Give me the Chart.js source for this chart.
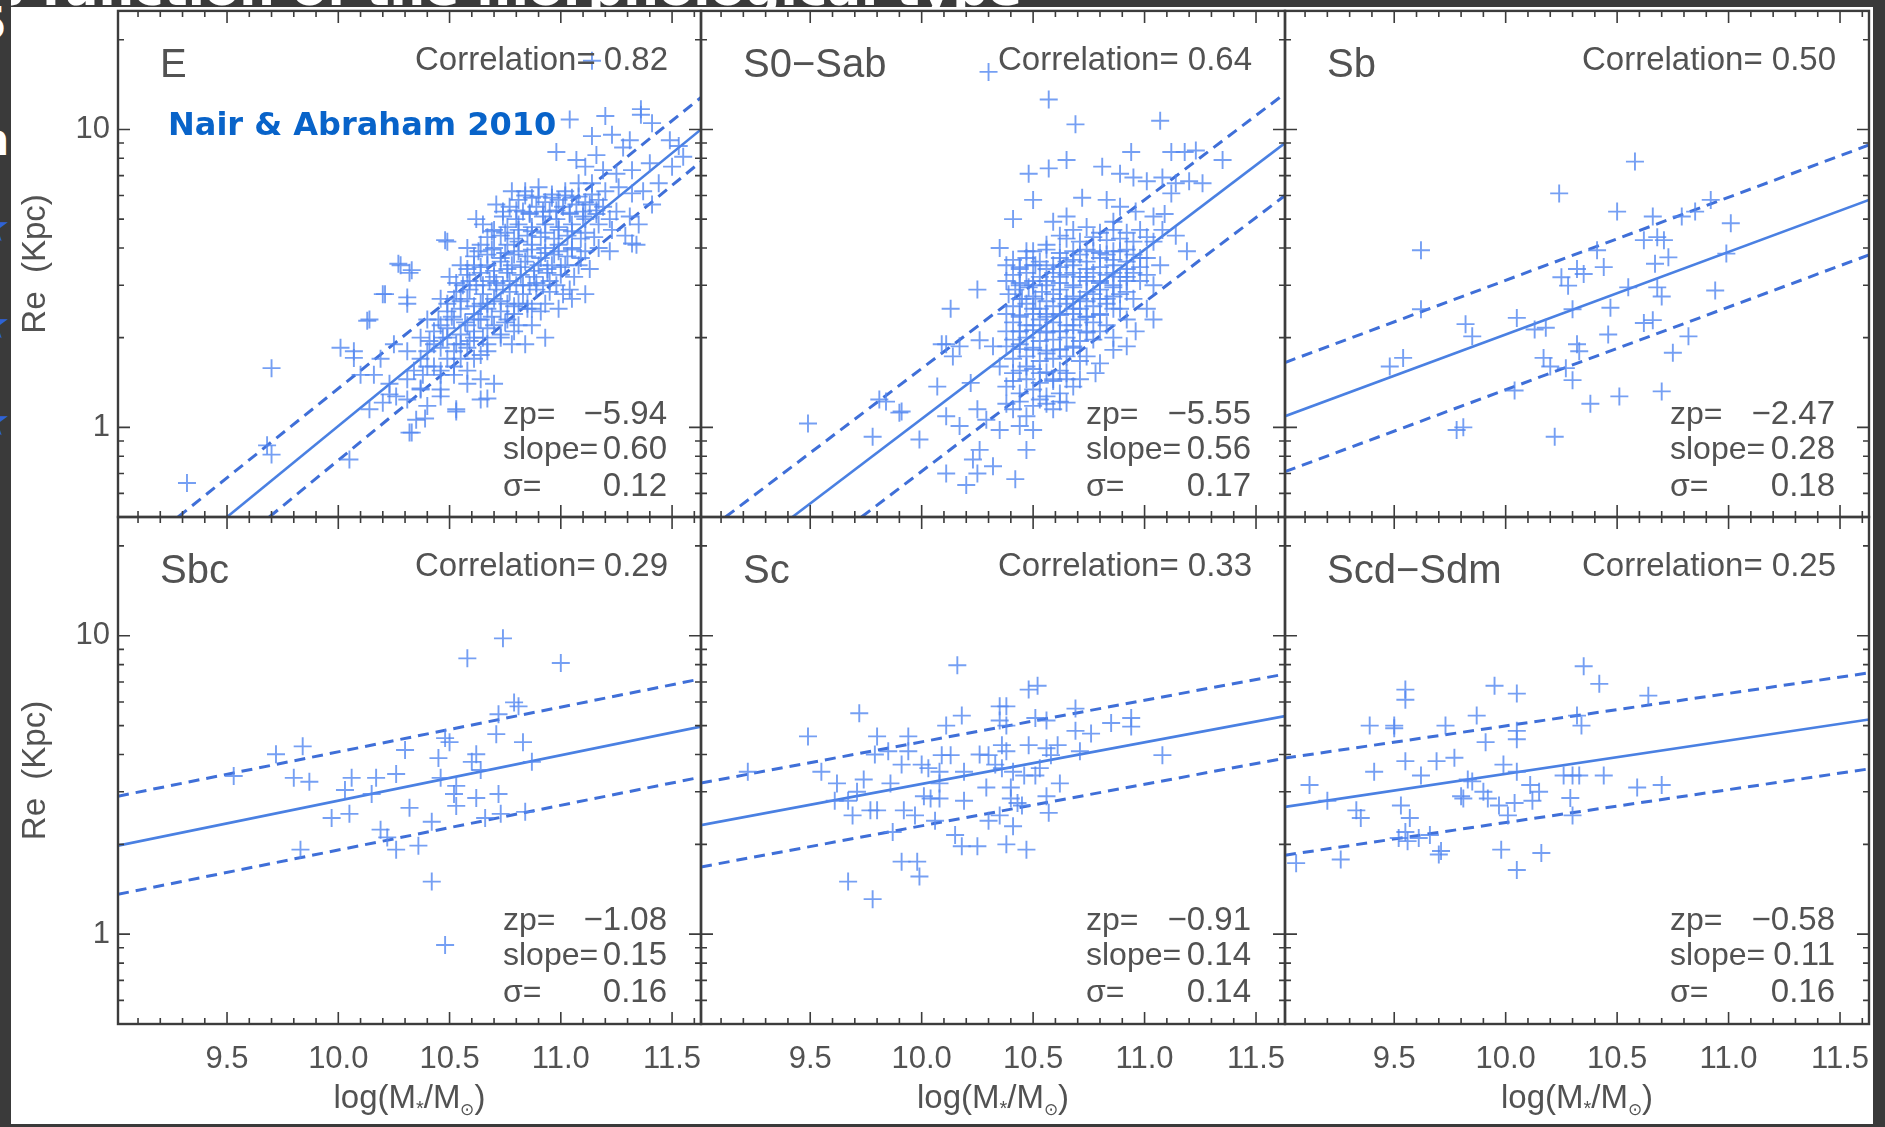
<!DOCTYPE html>
<html>
<head>
<meta charset="utf-8">
<script src="https://cdn.jsdelivr.net/npm/chart.js@4.4.1/dist/chart.umd.min.js"></script>
<style>
  html, body { margin: 0; padding: 0; background: #fff; }
  body { position: relative; width: 1885px; height: 1127px; overflow: hidden; }
  canvas { position: absolute; left: 0; top: 0; }
  .strip { position: absolute; background: #3a3a3a; overflow: hidden; z-index: 5; }
  .strip span { position: absolute; white-space: nowrap; line-height: 1; font-family: "DejaVu Sans"; font-weight: bold; }
  #credit { position: absolute; left: 168px; top: 105px; z-index: 4; line-height: 1;
            font: bold 32px "DejaVu Sans"; color: #0863c9; white-space: nowrap; }
</style>
</head>
<body>
<div id="credit">Nair &amp; Abraham 2010</div>
<div class="strip" style="left:0;top:0;width:1885px;height:7px"><span style="left:-6px;top:-37px;font-size:50px;color:#fff">s function of the morphological type</span></div>
<div class="strip" style="left:0;top:0;width:11px;height:1127px">
  <span style="left:-24px;top:2px;font-size:44px;color:#fff">5</span>
  <span style="left:-22px;top:118px;font-size:44px;color:#fff">n</span>
  <span style="left:-27px;top:206px;font-size:42px;color:#2f62d6">★</span>
  <span style="left:-27px;top:303px;font-size:42px;color:#2f62d6">★</span>
  <span style="left:-27px;top:400px;font-size:42px;color:#2f62d6">★</span>
</div>
<div class="strip" style="left:1873px;top:0;width:12px;height:1127px"></div>
<div class="strip" style="left:0;top:1124px;width:1885px;height:3px"></div>

<script>
// ---- data: [log(M*/Msun), Re (kpc)] ----
const ePoints = [
  [11.04,10.8],[11.20,11.1],[11.36,11.2],[11.41,10.5],[11.49,9.2],[11.14,9.5],[11.23,9.6],[11.28,8.7],[11.31,9.2],[10.98,8.4],
  [11.16,8.2],[11.07,7.9],[11.11,7.5],[11.19,7.3],[11.25,7.1],[11.32,7.3],[11.40,7.7],[11.44,6.6],[11.50,7.5],[11.55,8.1],
  [10.78,6.2],[10.84,6.2],[10.90,6.4],[10.96,5.9],[11.02,6.2],[11.08,6.6],[11.14,6.6],[11.20,6.2],[11.26,6.4],[11.32,6.1],
  [11.37,6.2],[11.41,5.6],[10.71,5.6],[10.77,5.5],[10.83,5.3],[10.89,5.5],[10.95,5.3],[11.01,5.5],[11.07,5.6],[11.13,5.6],
  [11.19,5.5],[11.25,5.3],[11.31,5.1],[11.35,4.8],[10.65,4.8],[10.70,4.6],[10.76,4.7],[10.81,4.8],[10.87,4.7],[10.93,4.8],
  [10.99,4.7],[11.05,4.8],[11.11,5.0],[11.17,4.8],[11.23,4.6],[11.29,4.4],[11.34,4.1],[10.49,4.2],[10.62,5.0],
  [10.58,4.0],[10.64,4.1],[10.70,4.0],[10.76,4.1],[10.81,4.2],[10.87,4.1],[10.93,4.0],[10.99,4.1],[11.05,4.0],[11.11,3.9],
  [11.17,4.0],[11.22,3.9],[10.55,3.5],[10.61,3.5],[10.67,3.5],[10.73,3.6],[10.78,3.5],[10.84,3.6],[10.90,3.5],[10.96,3.5],
  [11.02,3.5],[11.08,3.5],[11.13,3.4],[10.28,3.5],[10.32,3.3],[10.50,3.2],[10.56,3.0],[10.62,3.0],[10.68,3.1],[10.74,3.0],
  [10.80,3.0],[10.86,3.0],[10.92,3.0],[10.98,3.0],[11.04,2.9],[11.11,2.8],[10.20,2.8],[10.31,2.6],[10.46,2.7],[10.52,2.7],
  [10.58,2.7],[10.64,2.6],[10.70,2.7],[10.76,2.6],[10.81,2.6],[10.87,2.5],[10.93,2.6],[10.99,2.5],[11.05,2.7],
  [10.14,2.3],[10.40,2.3],[10.46,2.2],[10.52,2.3],[10.58,2.2],[10.64,2.3],[10.70,2.2],[10.76,2.3],[10.81,2.2],[10.87,2.2],
  [10.93,2.0],[10.84,1.9],[10.37,2.0],[10.43,1.9],[10.49,2.0],[10.55,1.9],[10.61,2.0],[10.67,1.9],[10.73,2.0],[10.78,1.9],
  [10.67,1.8],[10.61,1.7],[10.55,1.7],[10.49,1.7],[10.43,1.6],[10.37,1.7],[10.31,1.8],[10.25,1.9],[10.19,1.7],[10.07,1.8],
  [10.10,1.5],[10.16,1.5],[10.23,1.4],[10.31,1.45],[10.38,1.5],[10.46,1.5],[10.52,1.5],[10.58,1.4],[10.64,1.45],[10.70,1.4],
  [10.64,1.24],[10.53,1.15],[10.46,1.27],[10.40,1.18],[10.37,1.34],[10.31,1.24],[10.26,1.27],[10.35,1.06],[10.32,0.96],[10.20,1.21],
  [10.14,1.15],[10.05,0.78],[10.46,1.34],
  [9.32,0.65],[9.70,1.58],[9.68,0.87],[9.70,0.81],[10.01,1.85],[10.13,2.28],[10.07,1.71],[10.21,2.80],[10.27,3.54],[10.33,3.37],
  [10.31,2.73],[10.48,4.25],[11.14,17.0],[10.39,1.07],[10.33,0.96],[10.53,1.13],[10.67,1.25],[10.37,1.35],[10.23,1.29],
  [11.53,8.8],[11.36,11.7],[11.32,4.14],
  // dense core of the E cloud
  [10.81,5.8],[10.87,5.9],[10.93,5.7],[10.99,5.8],[11.05,5.9],[11.11,5.7],[11.17,5.8],
  [10.74,5.1],[10.80,5.0],[10.86,5.2],[10.92,5.1],[10.98,5.0],[11.04,5.2],[11.10,5.1],[11.16,5.2],[11.22,5.0],
  [10.67,4.35],[10.73,4.4],[10.79,4.3],[10.85,4.4],[10.91,4.35],[10.97,4.3],[11.03,4.4],[11.09,4.3],[11.15,4.35],
  [10.61,3.75],[10.67,3.8],[10.73,3.7],[10.79,3.8],[10.85,3.75],[10.91,3.7],[10.97,3.8],[11.03,3.75],[11.09,3.7],
  [10.58,3.25],[10.64,3.3],[10.70,3.2],[10.76,3.3],[10.82,3.25],[10.88,3.2],[10.94,3.3],[11.00,3.25],[11.06,3.2],
  [10.53,2.85],[10.59,2.9],[10.65,2.8],[10.71,2.9],[10.77,2.85],[10.83,2.8],[10.89,2.9],[10.95,2.85],[11.01,2.8],
  [10.49,2.45],[10.55,2.5],[10.61,2.4],[10.67,2.5],[10.73,2.45],[10.79,2.4],[10.85,2.5],[10.91,2.45],
  [10.43,2.1],[10.49,2.15],[10.55,2.05],[10.61,2.1],[10.67,2.15],[10.73,2.05],[10.79,2.1],
  [10.40,1.8],[10.46,1.85],[10.52,1.8],[10.58,1.85],[10.64,1.75],
  [10.34,1.55],[10.40,1.6],[10.46,1.55],[10.52,1.6],[10.58,1.55],
  [10.84,6.0],[10.90,5.95],[10.96,6.05],[11.02,6.0],[11.08,5.95],[11.14,6.05],
  [10.74,5.3],[10.80,5.35],[10.86,5.25],[10.92,5.3],[10.98,5.35],[11.04,5.25],[11.10,5.3],[11.16,5.35],
  [10.69,4.55],[10.75,4.5],[10.81,4.6],[10.87,4.55],[10.93,4.5],[10.99,4.6],[11.05,4.55],[11.11,4.5],
  [10.63,3.9],[10.69,3.95],[10.75,3.85],[10.81,3.9],[10.87,3.95],[10.93,3.85],[10.99,3.9],[11.05,3.95],
  [10.58,3.4],[10.64,3.45],[10.70,3.35],[10.76,3.4],[10.82,3.45],[10.88,3.35],[10.94,3.4],[11.00,3.45],
  [10.53,3.05],[10.59,3.1],[10.65,3.0],[10.71,3.05],[10.77,3.1],[10.83,3.0],[10.89,3.05],[10.95,3.1],
  [10.49,2.6],[10.55,2.65],[10.61,2.55],[10.67,2.6],[10.73,2.65],[10.79,2.55],[10.85,2.6],
  [10.45,2.3],[10.51,2.35],[10.57,2.25],[10.63,2.3],[10.69,2.35],[10.75,2.25],
  [10.41,1.95],[10.47,2.0],[10.53,1.9],[10.59,1.95],[10.65,2.0]
];
const s0Points = [
  [10.57,12.6],[10.69,10.4],[11.07,10.7],[10.94,8.4],[11.12,8.4],[11.18,8.4],[11.23,8.5],[11.35,7.9],[10.48,7.1],[10.57,7.4],
  [10.65,7.9],[10.81,7.5],[10.89,7.1],[10.95,6.9],[11.01,6.7],[11.08,6.9],[11.14,6.6],[11.20,6.7],[11.26,6.6],[11.12,6.1],
  [10.50,5.8],[10.41,5.0],[10.59,4.9],[10.65,5.1],[10.72,5.9],[10.83,5.8],[10.89,5.5],[10.96,5.3],[11.04,5.1],[11.09,5.2],
  [10.86,4.9],[11.08,4.6],[11.14,4.4],[11.19,3.9],[10.35,4.0],[10.47,3.9],[10.56,4.1],[10.62,4.4],[10.68,4.6],[10.74,4.7],
  [10.80,4.5],[10.86,4.6],[10.92,4.5],[10.98,4.6],[11.04,4.2],
  [10.38,3.5],[10.44,3.4],[10.51,3.5],[10.59,3.5],[10.65,3.6],[10.71,3.8],[10.77,3.9],[10.83,3.8],[10.89,3.9],[10.95,3.8],
  [11.01,3.7],[11.07,3.5],[10.38,3.1],[10.44,3.0],[10.50,3.1],[10.56,3.0],[10.62,3.2],[10.68,3.3],[10.74,3.2],[10.80,3.1],
  [10.86,3.3],[10.92,3.2],[10.98,3.1],[11.04,3.0],[10.39,2.8],[10.45,2.7],[10.51,2.7],[10.59,2.8],[10.65,2.7],[10.71,2.7],
  [10.77,2.8],[10.83,2.7],[10.89,2.8],[10.95,2.7],[11.01,2.5],[11.04,2.3],[10.25,2.9],[10.13,2.5],
  [10.38,2.4],[10.44,2.35],[10.50,2.5],[10.56,2.4],[10.62,2.4],[10.68,2.5],[10.74,2.35],[10.80,2.4],[10.86,2.5],[10.92,2.3],
  [10.96,2.1],[10.38,2.1],[10.44,2.1],[10.50,2.2],[10.56,2.1],[10.62,2.1],[10.68,2.2],[10.74,2.1],[10.80,2.1],[10.86,2.0],
  [10.11,1.9],[10.17,1.87],[10.14,1.73],[10.26,1.96],[10.32,1.87],[10.38,1.87],[10.44,1.9],[10.50,1.82],[10.56,1.77],[10.62,1.82],
  [10.68,1.87],[10.74,1.73],[10.80,1.64],[10.86,1.82],[10.92,1.87],
  [10.07,1.37],[10.22,1.41],[10.35,1.6],[10.41,1.52],[10.47,1.6],[10.53,1.52],[10.59,1.45],[10.65,1.52],[10.71,1.45],[10.78,1.52],
  [10.38,1.37],[10.44,1.3],[10.50,1.34],[10.56,1.27],[10.62,1.3],[10.68,1.37],
  [9.81,1.24],[9.90,1.12],[9.78,0.93],[9.99,0.91],[10.11,1.09],[10.17,1.01],[10.25,1.15],[10.29,1.06],[10.35,0.98],[10.41,1.15],
  [10.47,1.09],[10.53,1.24],[10.59,1.15],[10.65,1.21],[10.44,1.01],[10.50,0.98],[10.26,0.84],[10.23,0.78],[10.32,0.74],[10.47,0.84],
  [10.11,0.70],[10.20,0.64],[10.42,0.67],[10.25,0.70],
  [9.49,1.03],[9.84,1.22],[9.91,1.13],[10.30,15.6],[10.09,1.9],
  // dense core of the S0-Sab cloud
  [10.65,4.3],[10.71,4.2],[10.77,4.35],[10.83,4.25],[10.89,4.3],[10.95,4.2],[11.01,4.35],
  [10.41,3.65],[10.47,3.7],[10.53,3.6],[10.62,3.7],[10.68,3.65],[10.74,3.6],[10.80,3.7],[10.86,3.65],[10.92,3.6],[10.98,3.7],
  [10.41,3.25],[10.47,3.3],[10.53,3.2],[10.59,3.3],[10.65,3.25],[10.71,3.2],[10.77,3.3],[10.83,3.25],[10.89,3.2],[10.95,3.3],[11.01,3.25],
  [10.42,2.9],[10.48,2.95],[10.54,2.85],[10.62,2.9],[10.68,2.95],[10.74,2.85],[10.80,2.9],[10.86,2.95],[10.92,2.85],
  [10.41,2.55],[10.47,2.6],[10.53,2.5],[10.59,2.55],[10.65,2.6],[10.71,2.5],[10.77,2.55],[10.83,2.6],[10.89,2.5],
  [10.41,2.25],[10.47,2.2],[10.53,2.3],[10.59,2.25],[10.65,2.2],[10.71,2.3],[10.77,2.25],[10.83,2.2],
  [10.41,1.97],[10.47,2.0],[10.53,1.95],[10.59,1.97],[10.65,2.0],[10.71,1.95],[10.77,1.97],
  [10.41,1.7],[10.47,1.73],[10.53,1.67],[10.59,1.7],[10.65,1.73],[10.71,1.67],
  [10.41,1.43],[10.47,1.45],[10.53,1.41],[10.59,1.43],[10.65,1.45],
  [10.38,1.2],[10.44,1.22],[10.50,1.18],[10.56,1.2],[10.62,1.22],
  [10.50,3.9],[10.56,3.95],[10.62,3.85],[10.68,3.9],[10.74,3.95],[10.80,3.85],[10.86,3.9],[10.92,3.95],
  [10.44,3.45],[10.50,3.5],[10.56,3.4],[10.62,3.45],[10.68,3.5],[10.74,3.4],[10.80,3.45],[10.86,3.5],[10.92,3.4],[10.98,3.45],
  [10.44,3.05],[10.50,3.0],[10.56,3.1],[10.62,3.05],[10.68,3.0],[10.74,3.1],[10.80,3.05],[10.86,3.0],[10.92,3.1],
  [10.44,2.7],[10.50,2.75],[10.56,2.65],[10.62,2.7],[10.68,2.75],[10.74,2.65],[10.80,2.7],[10.86,2.75],
  [10.44,2.38],[10.50,2.4],[10.56,2.35],[10.62,2.38],[10.68,2.4],[10.74,2.35],[10.80,2.38],
  [10.44,2.1],[10.50,2.12],[10.56,2.08],[10.62,2.1],[10.68,2.12],[10.74,2.08],
  [10.44,1.83],[10.50,1.85],[10.56,1.81],[10.62,1.83],[10.68,1.85],
  [10.44,1.55],[10.50,1.57],[10.56,1.53],[10.62,1.55]
];
const sbPoints = [
  [9.62,3.93],[9.62,2.49],[9.54,1.71],[9.48,1.60],[9.82,2.22],[9.85,2.02],[10.05,2.33],[9.78,0.98],[9.81,1.0],[10.04,1.33],
  [10.13,2.13],[10.18,2.16],[10.17,1.71],[10.20,1.60],[10.24,6.1],[10.22,0.93],[10.25,3.19],[10.28,2.99],[10.32,3.40],[10.35,3.27],
  [10.30,2.49],[10.32,1.90],[10.33,1.80],[10.30,1.44],[10.27,1.58],[10.38,1.20],[10.41,3.93],[10.44,3.45],[10.51,1.27],[10.46,2.05],
  [10.47,2.52],[10.50,5.3],[10.58,7.8],[10.55,2.95],[10.62,4.25],[10.62,2.24],[10.66,2.29],[10.66,5.1],[10.68,4.35],[10.71,4.25],
  [10.67,3.54],[10.68,2.95],[10.70,2.75],[10.73,3.72],[10.70,1.32],[10.75,1.78],[10.79,5.1],[10.82,2.02],[10.85,5.3],[10.92,5.8],
  [10.94,2.88],[10.99,3.83],[11.01,4.84]
];
const sbcPoints = [
  [9.53,3.39],[9.72,4.01],[9.84,4.26],[9.80,3.34],[9.87,3.24],[9.83,1.92],[9.97,2.45],[10.03,3.04],[10.05,2.53],[10.06,3.34],
  [10.17,3.34],[10.15,2.95],[10.19,2.24],[10.22,2.11],[10.26,1.92],[10.26,3.44],[10.32,2.65],[10.30,4.14],[10.36,1.98],[10.42,1.50],
  [10.42,2.38],[10.48,0.92],[10.45,3.89],[10.46,3.34],[10.48,4.54],[10.50,4.40],[10.52,2.95],[10.53,2.69],[10.53,3.14],[10.58,8.4],
  [10.60,3.78],[10.62,4.01],[10.64,3.55],[10.62,2.86],[10.66,2.45],[10.71,4.68],[10.72,2.95],[10.74,9.8],[10.72,5.46],[10.73,2.53],
  [10.79,5.98],[10.81,5.8],[10.83,4.40],[10.84,2.57],[10.87,3.78],[11.00,8.1]
];
const scPoints = [
  [10.16,7.96],[10.48,6.6],[10.52,6.8],[9.72,5.5],[9.49,4.6],[10.35,5.8],[10.38,5.8],[10.18,5.4],[10.11,5.0],[9.80,4.6],
  [9.94,4.6],[10.35,5.2],[10.38,5.0],[10.51,5.3],[10.56,5.2],[10.69,5.7],[10.69,4.8],[10.76,4.7],[10.85,5.1],[10.94,5.3],
  [10.94,4.96],[11.08,3.98],[10.71,4.1],[10.61,4.3],[10.56,4.2],[10.58,3.98],[10.48,4.3],[10.36,4.3],[10.38,4.1],[10.30,3.98],
  [10.26,4.0],[10.09,3.98],[10.13,3.98],[9.94,4.1],[9.85,4.1],[9.79,4.0],[9.91,3.7],[10.00,3.7],[10.03,3.6],[10.08,3.5],
  [10.19,3.5],[10.33,3.7],[10.36,3.6],[10.41,3.5],[10.46,3.4],[10.51,3.4],[10.53,3.6],[9.22,3.5],[9.55,3.5],[9.62,3.2],
  [9.74,3.3],[9.86,3.2],[10.08,3.2],[10.29,3.1],[10.40,3.1],[10.62,3.2],[9.61,2.8],[9.67,2.8],[9.71,3.0],[10.01,2.9],
  [10.04,2.85],[10.08,2.85],[10.19,2.8],[10.40,2.85],[10.43,2.75],[10.45,2.7],[10.56,2.9],[9.69,2.5],[9.77,2.6],[9.80,2.6],
  [9.92,2.6],[9.97,2.5],[10.06,2.4],[10.30,2.4],[10.35,2.5],[10.57,2.55],[10.41,2.3],[9.87,2.2],[10.15,2.15],[10.18,1.97],
  [10.25,1.97],[10.38,2.0],[10.47,1.92],[9.91,1.75],[9.98,1.75],[9.99,1.56],[9.67,1.50],[9.78,1.31]
];
const scdPoints = [
  [10.35,7.9],[10.42,6.9],[9.95,6.8],[10.05,6.4],[9.55,6.6],[9.55,6.1],[10.64,6.3],[9.39,5.0],[9.50,5.0],[9.50,4.9],
  [9.73,5.0],[9.87,5.4],[10.05,4.8],[10.05,4.5],[9.91,4.4],[10.32,5.4],[10.34,5.0],[9.77,3.9],[9.69,3.8],[9.55,3.8],
  [9.41,3.5],[9.99,3.7],[10.05,3.5],[9.62,3.4],[9.83,3.3],[9.85,3.25],[9.12,3.16],[9.20,2.8],[9.80,2.9],[9.81,2.85],
  [9.90,3.0],[9.92,2.85],[9.97,2.7],[10.04,2.75],[10.11,3.16],[10.15,3.0],[10.12,2.8],[10.26,3.4],[10.30,3.4],[10.33,3.4],
  [10.44,3.4],[10.29,2.86],[10.59,3.1],[10.70,3.16],[9.33,2.6],[9.35,2.45],[9.53,2.7],[9.57,2.45],[9.55,2.2],[9.52,2.1],
  [9.56,2.05],[9.61,2.1],[9.66,2.15],[10.01,2.5],[10.30,2.5],[9.06,1.73],[9.26,1.78],[9.70,1.85],[9.71,1.9],[9.98,1.92],
  [10.16,1.87],[10.05,1.64]
];

// fit lines: [solid, upper dashed, lower dashed], each two end points
const eFit   = [[[9.50,0.5],[11.63,10.0]], [[9.28,0.5],[11.63,12.8]], [[9.69,0.5],[11.63,7.8]]];
const s0Fit  = [[[9.42,0.5],[11.63,9.0]],  [[9.12,0.5],[11.63,13.2]], [[9.73,0.5],[11.63,6.0]]];
const sbFit  = [[[9.01,1.09],[11.63,5.8]], [[9.01,1.65],[11.63,8.87]], [[9.01,0.71],[11.63,3.79]]];
const sbcFit = [[[9.01,1.98],[11.63,4.96]],[[9.01,2.90],[11.63,7.17]], [[9.01,1.36],[11.63,3.36]]];
const scFit  = [[[9.01,2.32],[11.63,5.38]],[[9.01,3.21],[11.63,7.44]], [[9.01,1.68],[11.63,3.89]]];
const scdFit = [[[9.01,2.67],[11.63,5.24]],[[9.01,3.89],[11.63,7.51]], [[9.01,1.84],[11.63,3.58]]];

const panelNames   = ['E', 'S0\u2212Sab', 'Sb', 'Sbc', 'Sc', 'Scd\u2212Sdm'];
const correlations = [0.82, 0.64, 0.50, 0.29, 0.33, 0.25];
const zeroPoints   = [-5.94, -5.55, -2.47, -1.08, -0.91, -0.58];
const slopes       = [0.60, 0.56, 0.28, 0.15, 0.14, 0.11];
const sigmas       = [0.12, 0.17, 0.18, 0.16, 0.14, 0.16];

const xTickValues = [9.5, 10.0, 10.5, 11.0, 11.5];
const yTickValues = [1, 10];
const yMinorValues = [0.6, 0.7, 0.8, 0.9, 2, 3, 4, 5, 6, 7, 8, 9, 20];

// ---- layout ----
const W = 1885, H = 1127;
const colEdges = [118, 701, 1285, 1869];
const rowEdges = [10, 517, 1024];
const xMin = 9.01, xMax = 11.63;

const crossColor = 'rgba(82,135,240,0.8)';
const lineColor = '#4a80e2';
const dashColor = '#3f6fd8';
const axisColor = '#3c3c3c';
const textColor = '#525252';
const font = '"Liberation Sans", Arial, sans-serif';

const fmt = v => v.toFixed(2).replace('-', '\u2212');
const toXY = arr => arr.map(([x, y]) => ({ x, y }));

const decor = {
  id: 'decor',
  afterDatasetsDraw(chart, args, o) {
    const { ctx, chartArea: a } = chart;
    const xs = chart.scales.x, ys = chart.scales.y;
    ctx.save();
    ctx.strokeStyle = axisColor;
    ctx.lineWidth = 1.6;
    ctx.beginPath();
    for (let i = 91; i <= 116; i++) {
      const px = xs.getPixelForValue(i / 10);
      const len = i % 5 === 0 ? 12 : 6;
      ctx.moveTo(px, a.bottom); ctx.lineTo(px, a.bottom - len);
      ctx.moveTo(px, a.top); ctx.lineTo(px, a.top + len);
    }
    yTickValues.concat(yMinorValues).forEach(v => {
      const py = ys.getPixelForValue(v);
      const len = yTickValues.includes(v) ? 12 : 6;
      ctx.moveTo(a.left, py); ctx.lineTo(a.left + len, py);
      ctx.moveTo(a.right, py); ctx.lineTo(a.right - len, py);
    });
    ctx.stroke();
    ctx.lineWidth = 2.4;
    ctx.strokeRect(a.left, a.top, a.right - a.left, a.bottom - a.top);

    ctx.fillStyle = textColor;
    ctx.textBaseline = 'alphabetic';
    ctx.textAlign = 'left';
    ctx.font = '40px ' + font;
    ctx.fillText(o.name, a.left + 42, a.top + 66);
    ctx.font = '33px ' + font;
    ctx.fillText('Correlation=', a.left + 297, a.top + 59);
    ctx.font = '32px ' + font;
    ctx.fillText('zp=', a.left + 385, a.top + 413);
    ctx.fillText('slope=', a.left + 385, a.top + 448);
    ctx.fillText('\u03c3=', a.left + 385, a.top + 485);
    ctx.font = '33px ' + font;
    ctx.textAlign = 'right';
    ctx.fillText(fmt(o.corr), a.right - 33, a.top + 59);
    ctx.fillText(fmt(o.zp), a.right - 34, a.top + 413);
    ctx.fillText(fmt(o.slope), a.right - 34, a.top + 448);
    ctx.fillText(fmt(o.sigma), a.right - 34, a.top + 485);

    if (o.xTitle) {
      // log(M*/M⊙) with subscripts
      const parts = [['log(M', 33, 0], ['*', 20, 7], ['/M', 33, 0], ['\u2299', 17, 7], [')', 33, 0]];
      let total = 0;
      parts.forEach(p => { ctx.font = p[1] + 'px ' + font; total += ctx.measureText(p[0]).width; });
      let x = (a.left + a.right) / 2 - total / 2;
      ctx.textAlign = 'left';
      parts.forEach(p => {
        ctx.font = p[1] + 'px ' + font;
        ctx.fillText(p[0], x, 1108 + p[2]);
        x += ctx.measureText(p[0]).width;
      });
    }
    ctx.restore();
  }
};

const panels = [
  { pts: ePoints, fit: eFit }, { pts: s0Points, fit: s0Fit }, { pts: sbPoints, fit: sbFit },
  { pts: sbcPoints, fit: sbcFit }, { pts: scPoints, fit: scFit }, { pts: scdPoints, fit: scdFit }
];

panels.forEach((p, i) => {
  const col = i % 3, row = Math.floor(i / 3);
  const left = colEdges[col], right = colEdges[col + 1];
  const top = rowEdges[row], bottom = rowEdges[row + 1];
  const showY = col === 0, showX = row === 1;
  const yW = showY ? 118 : 0, xH = showX ? 60 : 0;

  const canvas = document.createElement('canvas');
  canvas.width = W; canvas.height = H;
  document.body.appendChild(canvas);

  new Chart(canvas.getContext('2d'), {
    type: 'scatter',
    data: {
      datasets: [
        { type: 'scatter', data: toXY(p.pts), pointStyle: 'cross', pointRadius: 9, pointHoverRadius: 9,
          borderColor: crossColor, backgroundColor: crossColor, borderWidth: 1.9, clip: 0 },
        { type: 'line', data: toXY(p.fit[0]), borderColor: lineColor, borderWidth: 2.6, pointRadius: 0, clip: 0 },
        { type: 'line', data: toXY(p.fit[1]), borderColor: dashColor, borderWidth: 3, borderDash: [11, 7], pointRadius: 0, clip: 0 },
        { type: 'line', data: toXY(p.fit[2]), borderColor: dashColor, borderWidth: 3, borderDash: [11, 7], pointRadius: 0, clip: 0 }
      ]
    },
    options: {
      responsive: false,
      animation: false,
      events: [],
      layout: { padding: { left: left - yW, top: top, right: W - right, bottom: H - bottom - xH } },
      plugins: {
        legend: { display: false },
        tooltip: { enabled: false },
        decor: { name: panelNames[i], corr: correlations[i], zp: zeroPoints[i], slope: slopes[i],
                 sigma: sigmas[i], xTitle: showX }
      },
      scales: {
        x: {
          type: 'linear', min: xMin, max: xMax, display: showX,
          afterBuildTicks: s => { s.ticks = xTickValues.map(v => ({ value: v })); },
          afterFit: s => { s.height = xH; s.paddingLeft = 0; s.paddingRight = 0; },
          grid: { display: false, drawTicks: false },
          border: { display: false },
          ticks: { color: textColor, font: { family: font, size: 31 }, padding: 17,
                   maxRotation: 0, autoSkip: false, callback: v => v.toFixed(1) }
        },
        y: {
          type: 'logarithmic', min: 0.5, max: 25, display: showY,
          afterBuildTicks: s => { s.ticks = yTickValues.map(v => ({ value: v })); },
          afterFit: s => { s.width = yW; s.paddingTop = 0; s.paddingBottom = 0; },
          grid: { display: false, drawTicks: false },
          border: { display: false },
          ticks: { color: textColor, font: { family: font, size: 31 }, padding: 8, callback: v => String(v) },
          title: { display: true, text: 'Re  (Kpc)', color: textColor, font: { family: font, size: 33 },
                   padding: { top: 16, bottom: 0 } }
        }
      }
    },
    plugins: [decor]
  });
});
</script>
</body>
</html>
